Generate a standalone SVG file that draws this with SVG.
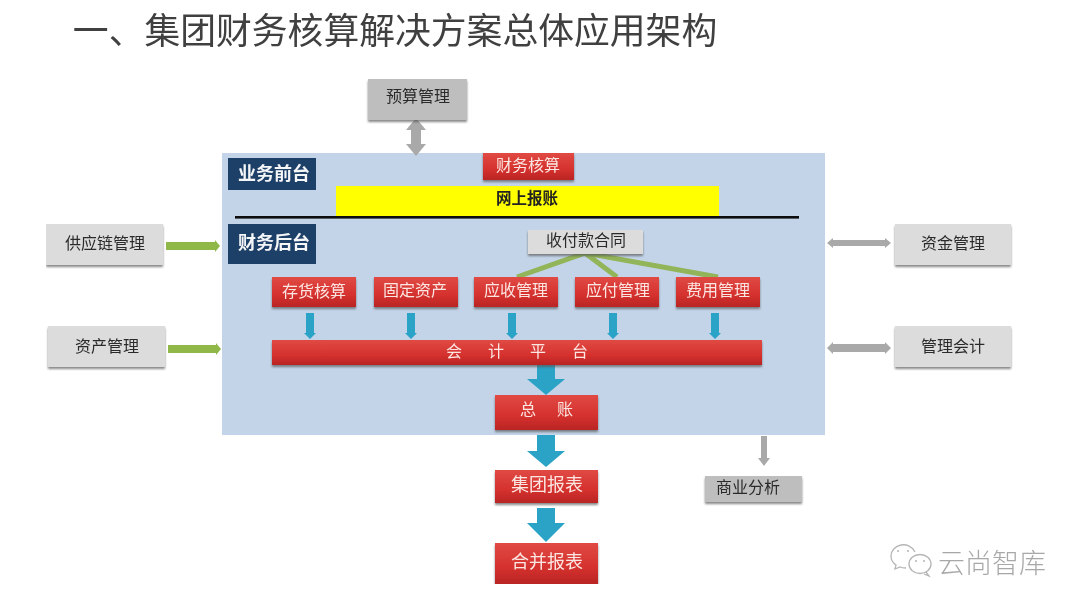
<svg xmlns="http://www.w3.org/2000/svg" width="1080" height="608" viewBox="0 0 1080 608">
<style>
text{font-family:"Noto Sans CJK SC","Noto Sans",sans-serif;text-anchor:middle;dominant-baseline:central}
.red{fill:url(#redG);filter:url(#sh)}
.gray{fill:#dcdcdc;filter:url(#sh)}
.dgray{fill:#bebebe;filter:url(#sh)}
.navy{fill:#1f3f68}
.w{fill:#fbe6e2;font-size:16px}
.k{fill:#2b2b2b;font-size:16px}
.n{fill:#f4f6f8;font-size:18px;font-weight:700}
.grn{fill:#8fb84a}
.gar{fill:#a9a9a9}
.cy{fill:#2ba3c6}
.gl{stroke:#93b55a;stroke-width:5;fill:none}
</style>
<defs>
<linearGradient id="redG" x1="0" y1="0" x2="0" y2="1"><stop offset="0" stop-color="#e04a44"/><stop offset="0.6" stop-color="#d5312e"/><stop offset="1" stop-color="#b92524"/></linearGradient>
<filter id="sh" x="-10%" y="-20%" width="120%" height="150%"><feDropShadow dx="0" dy="2" stdDeviation="1.2" flood-color="#555" flood-opacity="0.7"/></filter>
<filter id="soft" x="0" y="0" width="100%" height="100%"><feGaussianBlur stdDeviation="0.5"/></filter>
</defs>
<rect width="1080" height="608" fill="#fff"/>
<g id="picture" filter="url(#soft)">
<text id="title" x="395" y="28" style="font-size:35.8px;fill:#404040">一、集团财务核算解决方案总体应用架构</text>
<rect id="panel" x="222" y="153" width="603" height="282" fill="#c3d4e9"/>
<g id="connectors">
<path class="gar" d="M416 118l10 12h-5v14h5l-10 12-10-12h5v-14h-5z"/>
<path class="grn" d="M166 242h49v-2l5 6-5 6v-2h-49z"/>
<path class="grn" d="M168 345h48v-2l5 6-5 6v-2h-48z"/>
<path class="gar" d="M827 243l6-5v2h52v-2l6 5-6 5v-2h-52v2z"/>
<path class="gar" d="M827 348l6-6v2h52v-2l6 6-6 6v-2h-52v2z"/>
<path class="gar" d="M761 436h6v22h3l-6 8-6-8h3z"/>
<path class="gl" d="M517 277L585 253L617 277M585 253L718 277"/>
<path class="cy" d="M306 313h8v20h2l-6 6-6-6h2z"/>
<path class="cy" d="M407 313h8v20h2l-6 6-6-6h2z"/>
<path class="cy" d="M508 313h8v20h2l-6 6-6-6h2z"/>
<path class="cy" d="M609 313h8v20h2l-6 6-6-6h2z"/>
<path class="cy" d="M711 313h8v20h2l-6 6-6-6h2z"/>
<path class="cy" d="M537 365h18v14h10l-19 16-19-16h10z"/>
<path class="cy" d="M537 435h18v16h10l-19 16-19-16h10z"/>
<path class="cy" d="M537 508h18v15h10l-19 19-19-19h10z"/>
</g>
<g id="n-budget"><rect class="dgray" x="368" y="79" width="99" height="41"/><text class="k" x="418" y="95">预算管理</text></g>
<g id="n-front"><rect class="navy" x="228" y="158" width="88" height="32"/><text class="n" x="274" y="172">业务前台</text></g>
<g id="n-back"><rect class="navy" x="228" y="224" width="88" height="40"/><text class="n" x="274" y="241">财务后台</text></g>
<g id="n-acct"><rect class="red" x="483" y="153" width="91" height="27"/><text class="w" x="528" y="164">财务核算</text></g>
<g id="n-online"><rect x="336" y="186" width="383" height="31" fill="#ffff00"/><text x="527" y="197" style="font-size:15.500px;font-weight:700;fill:#222">网上报账</text></g>
<rect id="divider" x="235" y="216" width="564" height="2.6" fill="#0a0a0a"/>
<g id="n-contract"><rect class="gray" x="528" y="230" width="115" height="24"/><text class="k" x="586" y="239">收付款合同</text></g>
<g id="n-inv"><rect class="red" x="272" y="277" width="84" height="30"/><text class="w" x="314" y="290">存货核算</text></g>
<g id="n-fa"><rect class="red" x="374" y="277" width="84" height="30"/><text class="w" x="415" y="289">固定资产</text></g>
<g id="n-ar"><rect class="red" x="474" y="277" width="84" height="30"/><text class="w" x="516" y="289">应收管理</text></g>
<g id="n-ap"><rect class="red" x="575" y="277" width="84" height="30"/><text class="w" x="618" y="289">应付管理</text></g>
<g id="n-exp"><rect class="red" x="676" y="277" width="84" height="30"/><text class="w" x="718" y="289">费用管理</text></g>
<g id="n-platform"><rect class="red" x="272" y="340" width="490" height="25"/><text class="w" x="517" y="350" style="letter-spacing:26px" dx="13">会计平台</text></g>
<g id="n-gl"><rect class="red" x="495" y="395" width="103" height="35"/><text class="w" x="547" y="408" style="letter-spacing:21px" dx="10">总账</text></g>
<g id="n-group"><rect class="red" x="495" y="470" width="103" height="33"/><text class="w" x="547" y="483" style="font-size:18px">集团报表</text></g>
<g id="n-merge"><rect class="red" x="495" y="543" width="103" height="41"/><text class="w" x="547" y="560" style="font-size:18px">合并报表</text></g>
<g id="n-bi"><rect class="dgray" x="705" y="476" width="97" height="26"/><text class="k" x="748" y="486">商业分析</text></g>
<g id="n-scm"><rect class="gray" x="46" y="224" width="117" height="41"/><text class="k" x="105" y="242">供应链管理</text></g>
<g id="n-asset"><rect class="gray" x="48" y="326" width="117" height="41"/><text class="k" x="107" y="345">资产管理</text></g>
<g id="n-fund"><rect class="gray" x="895" y="224" width="116" height="41"/><text class="k" x="953" y="242">资金管理</text></g>
<g id="n-mgmt"><rect class="gray" x="895" y="326" width="116" height="41"/><text class="k" x="953" y="345">管理会计</text></g>
<g id="watermark" fill="none" stroke="#b5b5b5" stroke-width="1.3">
<path d="M915 552c-3-6-9-8-14-7-6 1-10 6-10 11 0 4 2 7 5 9l-1 4 5-2c2 1 4 1 6 1"/>
<ellipse cx="920" cy="564" rx="11" ry="9.500"/>
<path d="M926 572l3 4-5-2"/>
<g fill="#b5b5b5" stroke="none"><circle cx="898" cy="551" r="1"/><circle cx="908" cy="551" r="1"/><circle cx="916" cy="561" r="1"/><circle cx="924" cy="561" r="1"/></g>
<text x="992" y="561" stroke="none" fill="#a8a8a8" style="font-size:27px;font-weight:300">云尚智库</text>
</g>
</g>
</svg>
